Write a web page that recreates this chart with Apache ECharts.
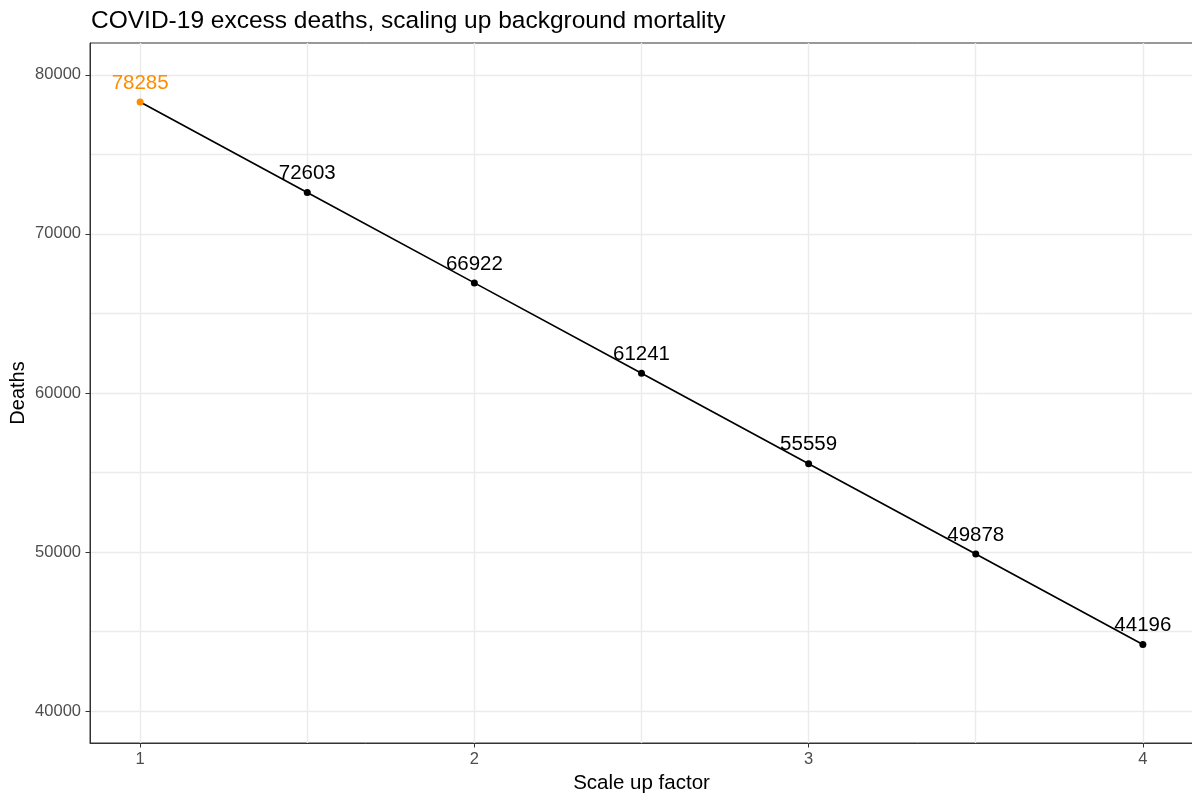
<!DOCTYPE html>
<html>
<head>
<meta charset="utf-8">
<script src="https://cdn.jsdelivr.net/npm/echarts@6/dist/echarts.min.js"></script>
<style>
html,body{margin:0;padding:0;background:#fff;}
#chart{width:1192px;height:796px;}
</style>
</head>
<body>
<div id="chart"></div>
<script>
const scaleFactors = [1, 1.5, 2, 2.5, 3, 3.5, 4];
const deaths = [78285, 72603, 66922, 61241, 55559, 49878, 44196];
const xTickValues = [1, 2, 3, 4];
const xGridValues = [1, 1.5, 2, 2.5, 3, 3.5, 4];
const yTickValues = [40000, 50000, 60000, 70000, 80000];
const yGridValues = [40000, 45000, 50000, 55000, 60000, 65000, 70000, 75000, 80000];
const highlightColor = '#FF8C00';

const FONT = '"Liberation Sans", Arial, sans-serif';
const chart = echarts.init(document.getElementById('chart'), null, {renderer: 'canvas'});

const points = scaleFactors.map((x, i) => {
  const p = {value: [x, deaths[i]]};
  if (i === 0) {
    p.itemStyle = {color: highlightColor};
    p.label = {color: highlightColor};
  }
  return p;
});

const option = {
  animation: false,
  backgroundColor: '#ffffff',
  title: {
    text: 'COVID-19 excess deaths, scaling up background mortality',
    left: 86, top: 4,
    textStyle: {fontFamily: FONT, fontSize: 24.5, fontWeight: 'normal', color: '#000'}
  },
  grid: {
    left: 90, top: 43, width: 1103, height: 700,
    show: true, borderColor: '#333333', borderWidth: 1, backgroundColor: 'transparent',
    containLabel: false,
    outerBoundsMode: 'none'
  },
  xAxis: [
    {
      type: 'value', min: 0.85, max: 4.15, position: 'bottom',
      axisLine: {show: true, onZero: false, lineStyle: {color: '#333333', width: 1}},
      axisTick: {show: false, customValues: xGridValues},
      axisLabel: {show: false},
      splitLine: {show: true, lineStyle: {color: '#EBEBEB', width: 1.4}}
    },
    {
      type: 'value', min: 0.85, max: 4.15, position: 'bottom',
      name: 'Scale up factor', nameLocation: 'middle', nameGap: 28,
      nameTextStyle: {fontFamily: FONT, fontSize: 20.5, color: '#000'},
      axisLine: {show: false, onZero: false},
      axisTick: {show: true, length: 4.5, customValues: xTickValues, lineStyle: {color: '#333333', width: 1}},
      axisLabel: {show: true, customValues: xTickValues, margin: 8, fontFamily: FONT, fontSize: 16.5, color: '#4D4D4D'},
      splitLine: {show: false}
    }
  ],
  yAxis: [
    {
      type: 'value', min: 38000, max: 82000, position: 'left',
      axisLine: {show: true, onZero: false, lineStyle: {color: '#333333', width: 1}},
      axisTick: {show: false, customValues: yGridValues},
      axisLabel: {show: false},
      splitLine: {show: true, lineStyle: {color: '#EBEBEB', width: 1.4}}
    },
    {
      type: 'value', min: 38000, max: 82000, position: 'left',
      name: 'Deaths', nameLocation: 'middle', nameGap: 62, nameRotate: 90,
      nameMoveOverlap: false,
      nameTextStyle: {fontFamily: FONT, fontSize: 20, color: '#000'},
      axisLine: {show: false, onZero: false},
      axisTick: {show: true, length: 4.5, customValues: yTickValues, lineStyle: {color: '#333333', width: 1}},
      axisLabel: {show: true, customValues: yTickValues, margin: 9, fontFamily: FONT, fontSize: 16.5, color: '#4D4D4D',
        formatter: v => String(v)},
      splitLine: {show: false}
    }
  ],
  series: [{
    type: 'line',
    xAxisIndex: 0, yAxisIndex: 0,
    data: points,
    symbol: 'circle', symbolSize: 7,
    showAllSymbol: true,
    lineStyle: {color: '#000', width: 1.7},
    itemStyle: {color: '#000'},
    label: {
      show: true, position: 'top', distance: 5,
      fontFamily: FONT, fontSize: 20.5, color: '#000',
      formatter: p => String(p.value[1])
    },
    emphasis: {disabled: true}
  }]
};
chart.setOption(option);
</script>
</body>
</html>
